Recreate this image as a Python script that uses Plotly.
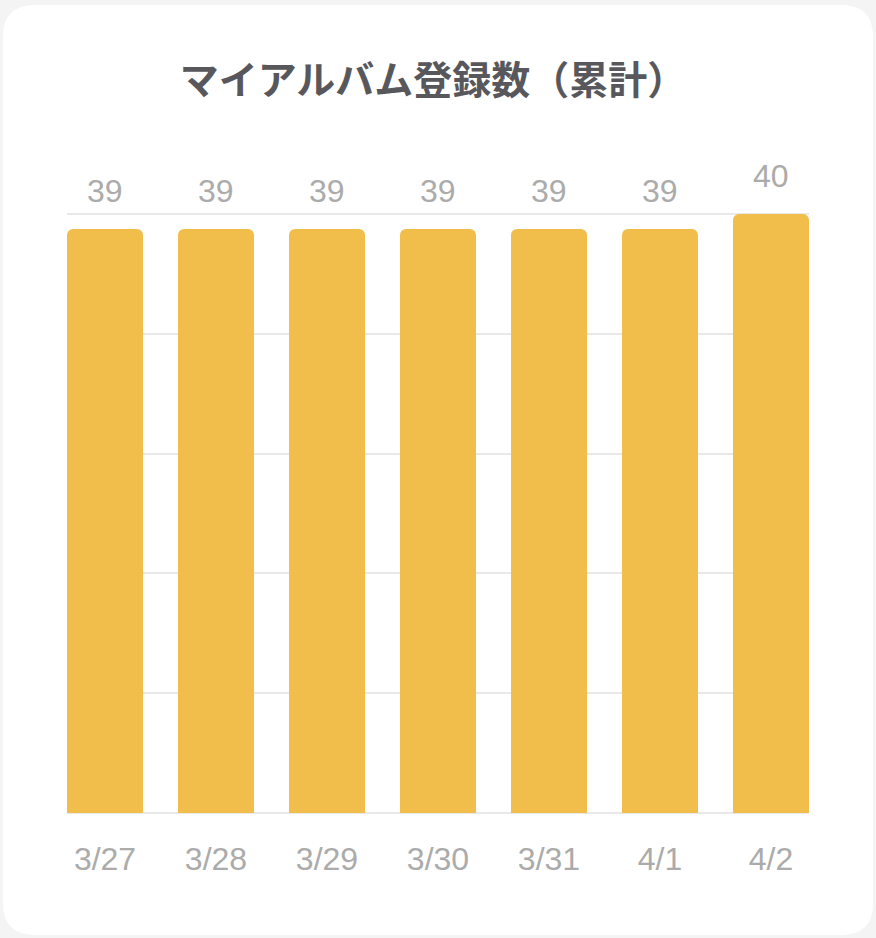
import plotly.graph_objects as go

# data
dates = ["3/27", "3/28", "3/29", "3/30", "3/31", "4/1", "4/2"]
counts = [39, 39, 39, 39, 39, 39, 40]

title_text = "マイアルバム登録数（累計）"

W, H = 876, 938
L, R, T, B = 67, 67, 212, 125
pw, ph = W - L - R, H - T - B


def px_x(x):
    return (x - L) / pw


def px_y(y):
    return (H - B - y) / ph


# rounded white card behind the chart (paper coords)
x0, x1, y0, y1, rad = 3, 873, 5, 935, 32
rx, ry = rad / pw, rad / ph
card = (
    f"M {px_x(x0) + rx} {px_y(y0)} L {px_x(x1) - rx} {px_y(y0)} "
    f"Q {px_x(x1)} {px_y(y0)} {px_x(x1)} {px_y(y0) - ry} "
    f"L {px_x(x1)} {px_y(y1) + ry} "
    f"Q {px_x(x1)} {px_y(y1)} {px_x(x1) - rx} {px_y(y1)} "
    f"L {px_x(x0) + rx} {px_y(y1)} "
    f"Q {px_x(x0)} {px_y(y1)} {px_x(x0)} {px_y(y1) + ry} "
    f"L {px_x(x0)} {px_y(y0) - ry} "
    f"Q {px_x(x0)} {px_y(y0)} {px_x(x0) + rx} {px_y(y0)} Z"
)

fig = go.Figure()
fig.add_trace(go.Bar(
    x=dates,
    y=counts,
    marker=dict(color="#F1BE4C", line=dict(width=0), cornerradius=6),
    hoverinfo="skip",
))

# value labels above bars
for d, v in zip(dates, counts):
    fig.add_annotation(
        x=d, y=v, text=str(v), showarrow=False,
        yanchor="middle", yshift=38,
        font=dict(family="Liberation Sans, Arial", size=32, color="#ABABAB"),
    )

fig.update_layout(
    width=W, height=H,
    margin=dict(l=L, r=R, t=T, b=B),
    paper_bgcolor="#F4F4F4",
    plot_bgcolor="rgba(0,0,0,0)",
    bargap=0.315,
    showlegend=False,
    title=dict(
        text="<b>" + title_text + "</b>",
        x=px_x(433), xref="paper", xanchor="center",
        y=1 - 80 / H, yanchor="middle",
        font=dict(family="Noto Sans CJK JP", size=39, color="#58585C"),
    ),
    shapes=[dict(type="path", path=card, xref="paper", yref="paper",
                 fillcolor="white", line=dict(width=0), layer="below")],
)
fig.update_xaxes(
    range=[-0.3425, 6.3425],
    showgrid=False, showline=False, zeroline=False,
    ticks="outside", ticklen=18, tickcolor="rgba(0,0,0,0)",
    tickfont=dict(family="Liberation Sans, Arial", size=32, color="#ABABAB"),
)
fig.update_yaxes(
    range=[0, 40.13], tick0=0, dtick=8,
    showgrid=True, gridcolor="#E9E9E9", gridwidth=2,
    zeroline=True, zerolinecolor="#E9E9E9", zerolinewidth=2,
    showticklabels=False,
)

fig.write_html("out.html", config={"displayModeBar": False},
               post_script="document.body.style.margin='0';")
